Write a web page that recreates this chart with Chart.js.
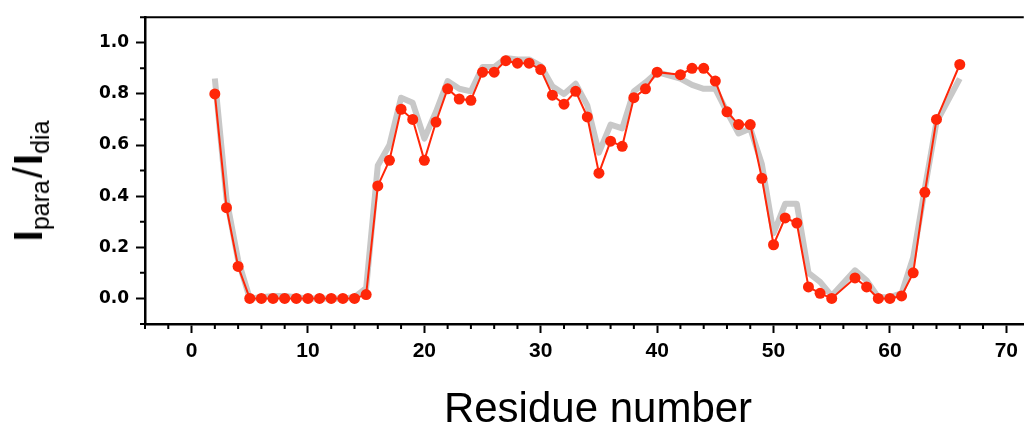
<!DOCTYPE html>
<html>
<head>
<meta charset="utf-8">
<script src="https://cdn.jsdelivr.net/npm/chart.js@4.4.0/dist/chart.umd.min.js"></script>
<style>
html, body { margin: 0; padding: 0; background: #fff; }
#wrap { position: relative; width: 1024px; height: 428px; }
#ytitle {
	position: absolute; left: 28px; top: 181px;
	transform: translate(-50%, -50%) rotate(-90deg);
	font-family: "Liberation Sans", Arial, sans-serif;
	font-size: 40px; line-height: 40px; white-space: nowrap; color: #000;
}
#ytitle sub { font-size: 25px; line-height: 0; vertical-align: -7px; }
#ytitle .sl { margin: 0 2px; }
#xtitle {
	position: absolute; left: 598px; top: 387px;
	transform: translateX(-50%);
	font-family: "Liberation Sans", Arial, sans-serif;
	font-size: 42px; line-height: 42px; white-space: nowrap; color: #000;
}
</style>
</head>
<body>
<div id="wrap">
	<canvas id="grafico" width="1024" height="428"></canvas>
	<div id="ytitle"><b>I</b><sub>para</sub><span class="sl">/</span><b>I</b><sub>dia</sub></div>
	<div id="xtitle">Residue number</div>
</div>
<script>
// residuos medidos (41, 56 e 65 nao aparecem)
var residues = [2,3,4,5,6,7,8,9,10,11,12,13,14,15,16,17,18,19,20,21,22,23,24,25,26,27,28,29,30,31,32,33,34,35,36,37,38,39,40,42,43,44,45,46,47,48,49,50,51,52,53,54,55,57,58,59,60,61,62,63,64,66];

// curva vermelha (pontos)
var ratioExp = [0.80,0.355,0.125,0,0,0,0,0,0,0,0,0,0,0.015,
	0.44,0.54,0.74,0.70,0.54,0.69,0.82,0.78,0.775,0.885,0.885,0.93,0.92,0.92,0.895,0.795,0.76,0.81,0.71,0.49,0.615,0.595,0.785,0.82,0.885,
	0.875,0.90,0.90,0.85,0.73,0.68,0.68,0.47,0.21,0.315,0.295,0.045,0.02,0,
	0.08,0.045,0,0,0.01,0.10,0.415,0.70,
	0.915];

// curva cinza (larga, sem pontos)
var ratioCalc = [0.86,0.39,0.15,0.0,0.005,0.01,0.01,0.005,0,0,0,0,0.005,0.04,
	0.52,0.60,0.785,0.765,0.625,0.73,0.85,0.82,0.81,0.905,0.905,0.94,0.935,0.935,0.91,0.83,0.80,0.84,0.755,0.57,0.68,0.665,0.81,0.845,0.885,
	0.86,0.835,0.82,0.82,0.73,0.645,0.665,0.525,0.255,0.37,0.37,0.10,0.065,0.01,
	0.11,0.07,0.005,0.005,0.02,0.16,0.43,0.69,
	0.86];

var xTicks = [0,10,20,30,40,50,60,70];
var yTicks = [0.0,0.2,0.4,0.6,0.8,1.0];

var expPts = [];
var calcPts = [];
for (let j = 0; j < residues.length; j += 1) {
	expPts.push({x: residues[j], y: ratioExp[j]});
	calcPts.push({x: residues[j], y: ratioCalc[j]});
}

// ticks menores + borda superior
var moldura = {
	id: 'moldura',
	afterDraw: function (chart) {
		var ctx = chart.ctx;
		var xs = chart.scales.x;
		var ys = chart.scales.y;
		var a = chart.chartArea;
		ctx.save();
		ctx.strokeStyle = '#000';
		ctx.lineWidth = 2;
		ctx.beginPath();
		for (let v = -4; v <= 70; v += 2) {
			if (v % 10 === 0) continue;
			let px = xs.getPixelForValue(v);
			ctx.moveTo(px, a.bottom);
			ctx.lineTo(px, a.bottom + 5);
		}
		for (let k = -1; k <= 11; k += 2) {
			let py = ys.getPixelForValue(k / 10);
			ctx.moveTo(a.left - 5, py);
			ctx.lineTo(a.left, py);
		}
		ctx.stroke();
		ctx.lineWidth = 2;
		ctx.beginPath();
		ctx.moveTo(a.left - 1, a.top);
		ctx.lineTo(a.right, a.top);
		ctx.stroke();
		ctx.restore();
	}
};

var myChart = new Chart(document.getElementById("grafico"), {
	type: 'scatter',
	data: {
		datasets: [{
			label: 'exp',
			data: expPts,
			showLine: true,
			borderColor: 'rgb(255, 38, 8)',
			backgroundColor: 'rgb(255, 38, 8)',
			borderWidth: 2,
			pointRadius: 5.5,
			pointHoverRadius: 5.5,
			pointBorderWidth: 0,
			order: 1
		}, {
			label: 'calc',
			data: calcPts,
			showLine: true,
			borderColor: 'rgb(200, 200, 200)',
			borderWidth: 6,
			pointRadius: 0,
			borderJoinStyle: 'round',
			order: 2
		}]
	},
	options: {
		responsive: false,
		animation: false,
		layout: { autoPadding: false, padding: { top: 15, right: 0, left: 0, bottom: 0 } },
		plugins: { legend: { display: false }, tooltip: { enabled: false } },
		scales: {
			x: {
				type: 'linear',
				min: -4,
				max: 71.5,
				afterBuildTicks: function (s) { s.ticks = xTicks.map(v => ({value: v})); },
				afterFit: function (s) { s.height = 104; },
				grid: { drawOnChartArea: false, drawTicks: true, tickLength: 9, tickWidth: 2, tickColor: '#000' },
				border: { display: true, color: '#000', width: 2.5 },
				ticks: {
					autoSkip: false,
					maxRotation: 0,
					padding: 6,
					color: '#000',
					font: { family: '"Liberation Sans", Arial, sans-serif', size: 21, weight: 'bold' },
					callback: function (v) { return v; }
				}
			},
			y: {
				type: 'linear',
				min: -0.1,
				max: 1.1,
				afterBuildTicks: function (s) { s.ticks = yTicks.map(v => ({value: v})); },
				afterFit: function (s) { s.width = 145; },
				grid: { drawOnChartArea: false, drawTicks: true, tickLength: 9, tickWidth: 2, tickColor: '#000' },
				border: { display: true, color: '#000', width: 2.5 },
				ticks: {
					autoSkip: false,
					padding: 7,
					color: '#000',
					font: { family: '"DejaVu Sans", sans-serif', size: 17, weight: 'bold' },
					callback: function (v) { return v.toFixed(1); }
				}
			}
		}
	},
	plugins: [moldura]
});
</script>
</body>
</html>
